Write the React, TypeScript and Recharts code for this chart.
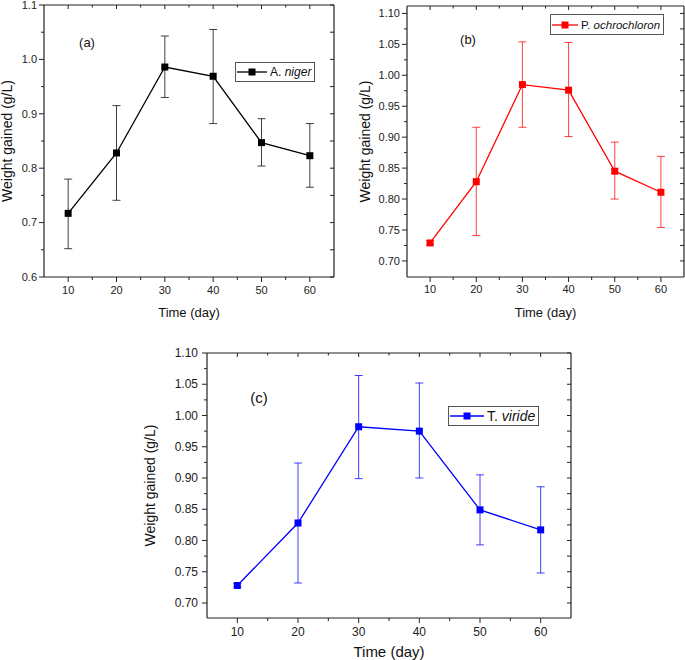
import React from 'react';
import { LineChart, Line, XAxis, YAxis, ErrorBar, Legend } from 'recharts';

// sampling days (x axis)
const days = [10, 20, 30, 40, 50, 60];

// (a) A. niger
const nigerMean = [0.717, 0.828, 0.986, 0.969, 0.847, 0.823];
const nigerLow = [0.652, 0.741, 0.93, 0.882, 0.804, 0.765];
const nigerHigh = [0.78, 0.915, 1.043, 1.055, 0.891, 0.882];

// (b) P. ochrochloron
const ochroMean = [0.729, 0.828, 0.985, 0.976, 0.845, 0.811];
const ochroLow = [0.726, 0.741, 0.916, 0.901, 0.8, 0.754];
const ochroHigh = [0.733, 0.916, 1.054, 1.053, 0.892, 0.869];

// (c) T. viride
const virideMean = [0.728, 0.828, 0.982, 0.975, 0.849, 0.817];
const virideLow = [0.726, 0.732, 0.899, 0.9, 0.793, 0.748];
const virideHigh = [0.731, 0.924, 1.064, 1.052, 0.905, 0.886];

// tick values
const xMajor = [10, 20, 30, 40, 50, 60];
const xMinor = [15, 25, 35, 45, 55];
const yMajorA = [0.6, 0.7, 0.8, 0.9, 1.0, 1.1];
const yMinorA = [0.65, 0.75, 0.85, 0.95, 1.05];
const yMajorBC = [0.7, 0.75, 0.8, 0.85, 0.9, 0.95, 1.0, 1.05, 1.1];
const yMinorBC = [0.725, 0.775, 0.825, 0.875, 0.925, 0.975, 1.025, 1.075];

const FONT = '"Liberation Sans", Arial, Helvetica, sans-serif';
const AXIS = '#222';

const buildRows = (mean: number[], low: number[], high: number[]) =>
  days.map((d, i) => ({ day: d, w: mean[i], err: [mean[i] - low[i], high[i] - mean[i]] }));

const isIn = (list: number[], v: number) => list.some((m) => Math.abs(m - v) < 1e-6);

// draws both the tick mark and its label, so minor ticks can be shorter
function makeTick(side: string, majors: number[], digits: number, fontSize: number, gap: number) {
  return function TickMark(props: any) {
    const { x, y, payload } = props;
    const v = payload.value;
    const major = isIn(majors, v);
    const label = major && side === 'bottom' ? String(v) : major && side === 'left' ? v.toFixed(digits) : '';
    if (side === 'bottom') {
      const len = major ? 5 : 3;
      return (
        <g>
          <line x1={x} y1={y} x2={x} y2={y + len} stroke={AXIS} strokeWidth={1} />
          {label && (
            <text x={x} y={y + gap} dy="0.35em" textAnchor="middle" fontSize={fontSize} fill="#222">
              {label}
            </text>
          )}
        </g>
      );
    }
    if (side === 'left') {
      const len = major ? 5 : 3;
      return (
        <g>
          <line x1={x - len} y1={y} x2={x} y2={y} stroke={AXIS} strokeWidth={1} />
          {label && (
            <text x={x - gap} y={y} dy="0.35em" textAnchor="end" fontSize={fontSize} fill="#222">
              {label}
            </text>
          )}
        </g>
      );
    }
    const len = major ? 4 : 2.5;
    if (side === 'top') {
      return <line x1={x} y1={y} x2={x} y2={y + len} stroke={AXIS} strokeWidth={1} />;
    }
    return <line x1={x - len} y1={y} x2={x} y2={y} stroke={AXIS} strokeWidth={1} />;
  };
}

function LegendBox({ color, genus, species, fontSize, lineW, height }: any) {
  return (
    <div
      style={{
        border: '1px solid #555',
        background: '#fff',
        display: 'flex',
        alignItems: 'center',
        height,
        boxSizing: 'border-box',
        padding: '0 3px 0 1px',
        fontFamily: FONT,
        fontSize,
        color: '#111',
        whiteSpace: 'nowrap',
      }}
    >
      <svg width={lineW} height={10}>
        <line x1={0} y1={5} x2={lineW} y2={5} stroke={color} strokeWidth={1.3} />
        <rect x={lineW / 2 - 3.5} y={1.5} width={7} height={7} fill={color} />
      </svg>
      <span style={{ marginLeft: 3 }}>
        {genus} <i>{species}</i>
      </span>
    </div>
  );
}

function Panel(props: any) {
  const {
    width, height, margin, yWidth, xHeight, yDomain, yMajor, yMinor, digits, tickFont, titleFont,
    yLabelFont, yLabelOffset, xLabelOffset, xGap, yGap, rows, color, legend,
  } = props;
  const xTicks = [...xMajor, ...xMinor].sort((a, b) => a - b);
  const yTicks = [...yMajor, ...yMinor].sort((a, b) => a - b);
  const axisLine = { stroke: AXIS, strokeWidth: 1.2 };
  return (
    <LineChart width={width} height={height} data={rows} margin={margin}>
      <XAxis
        xAxisId="b"
        dataKey="day"
        type="number"
        domain={[5, 65]}
        allowDataOverflow
        ticks={xTicks}
        interval={0}
        height={xHeight}
        tickLine={false}
        tickSize={0}
        tickMargin={0}
        axisLine={axisLine}
        tick={makeTick('bottom', xMajor, 0, tickFont, xGap)}
        label={{ value: 'Time (day)', position: 'insideBottom', offset: xLabelOffset, fontSize: titleFont, fill: '#111' }}
      />
      {/* frame: top axis, ticks pointing inwards */}
      <XAxis
        xAxisId="t"
        orientation="top"
        mirror
        dataKey="day"
        type="number"
        domain={[5, 65]}
        allowDataOverflow
        ticks={xTicks}
        interval={0}
        height={10}
        tickLine={false}
        tickSize={0}
        tickMargin={0}
        axisLine={axisLine}
        tick={makeTick('top', xMajor, 0, tickFont, 0)}
      />
      <YAxis
        yAxisId="l"
        type="number"
        domain={yDomain}
        allowDataOverflow
        ticks={yTicks}
        interval={0}
        width={yWidth}
        tickLine={false}
        tickSize={0}
        tickMargin={0}
        axisLine={axisLine}
        tick={makeTick('left', yMajor, digits, tickFont, yGap)}
        label={{
          value: 'Weight gained (g/L)',
          angle: -90,
          position: 'insideLeft',
          offset: yLabelOffset,
          fontSize: yLabelFont,
          fill: '#111',
          style: { textAnchor: 'middle' },
        }}
      />
      {/* frame: right axis, ticks pointing inwards */}
      <YAxis
        yAxisId="r"
        orientation="right"
        mirror
        type="number"
        domain={yDomain}
        allowDataOverflow
        ticks={yTicks}
        interval={0}
        width={10}
        tickLine={false}
        tickSize={0}
        tickMargin={0}
        axisLine={axisLine}
        tick={makeTick('right', yTicks, digits, tickFont, 0)}
      />
      <Legend
        layout="vertical"
        align="center"
        verticalAlign="middle"
        wrapperStyle={{ left: legend.left, top: legend.top, width: 'auto' }}
        content={() => <LegendBox color={color} {...legend} />}
      />
      <Line
        xAxisId="b"
        yAxisId="l"
        type="linear"
        dataKey="w"
        stroke={color}
        strokeWidth={1.3}
        isAnimationActive={false}
        dot={(p: any) => <rect key={`d-${p.index}`} x={p.cx - 3.5} y={p.cy - 3.5} width={7} height={7} fill={color} />}
        activeDot={false}
      >
        <ErrorBar dataKey="err" direction="y" width={4} stroke={color} strokeOpacity={0.75} strokeWidth={1} />
      </Line>
    </LineChart>
  );
}

const tagStyle = (left: number, top: number, size: number): React.CSSProperties => ({
  position: 'absolute',
  left,
  top,
  transform: 'translate(-50%, -50%)',
  fontFamily: FONT,
  fontSize: size,
  color: '#111',
});

export default function App() {
  return (
    <div style={{ position: 'absolute', left: 0, top: 0, width: 685, height: 660, background: '#fff', fontFamily: FONT }}>
      <div style={{ position: 'absolute', left: 0, top: 0 }}>
        <Panel
          width={340}
          height={330}
          margin={{ top: 5, right: 6, left: 0, bottom: 0 }}
          yWidth={44}
          xHeight={53}
          yDomain={[0.6, 1.1]}
          yMajor={yMajorA}
          yMinor={yMinorA}
          digits={1}
          tickFont={11}
          titleFont={13}
          yLabelFont={14}
          yLabelOffset={7}
          xLabelOffset={13}
          xGap={13}
          yGap={7}
          rows={buildRows(nigerMean, nigerLow, nigerHigh)}
          color="#000000"
          legend={{ left: 235, top: 62, height: 20, genus: 'A.', species: 'niger', fontSize: 12, lineW: 30 }}
        />
      </div>
      <div style={{ position: 'absolute', left: 340, top: 0 }}>
        <Panel
          width={345}
          height={330}
          margin={{ top: 6, right: 1, left: 0, bottom: 0 }}
          yWidth={67}
          xHeight={53}
          yDomain={[0.674, 1.112]}
          yMajor={yMajorBC}
          yMinor={yMinorBC}
          digits={2}
          tickFont={11}
          titleFont={13}
          yLabelFont={14}
          yLabelOffset={25}
          xLabelOffset={13}
          xGap={12}
          yGap={7}
          rows={buildRows(ochroMean, ochroLow, ochroHigh)}
          color="#ff0000"
          legend={{ left: 210, top: 14, height: 21, genus: 'P.', species: 'ochrochloron', fontSize: 11.5, lineW: 26 }}
        />
      </div>
      <div style={{ position: 'absolute', left: 120, top: 320 }}>
        <Panel
          width={460}
          height={340}
          margin={{ top: 33, right: 9, left: 0, bottom: 0 }}
          yWidth={87}
          xHeight={42}
          yDomain={[0.676, 1.1]}
          yMajor={yMajorBC}
          yMinor={yMinorBC}
          digits={2}
          tickFont={12}
          titleFont={15}
          yLabelFont={14}
          yLabelOffset={30}
          xLabelOffset={3}
          xGap={14}
          yGap={9}
          rows={buildRows(virideMean, virideLow, virideHigh)}
          color="#0000ff"
          legend={{ left: 328, top: 86, height: 20, genus: 'T.', species: 'viride', fontSize: 14, lineW: 34 }}
        />
      </div>
      <span style={tagStyle(87, 42, 13)}>(a)</span>
      <span style={tagStyle(468, 39, 13)}>(b)</span>
      <span style={tagStyle(259, 397, 15)}>(c)</span>
    </div>
  );
}
